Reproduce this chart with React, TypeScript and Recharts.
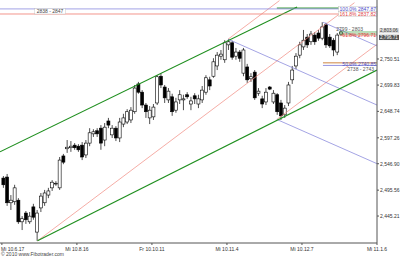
import React from "react"
import { ComposedChart, Bar, XAxis, YAxis, ReferenceLine } from "recharts"

const FONT = "'Liberation Sans', Arial, sans-serif"

// bottom axis: one tick every 20 bars
const xTicks = [0, 20, 40, 60, 80, 100]
const xLabels = ["Mi 10.6.17", "Mi 10.8.16", "Fr 10.10.11", "Mi 10.11.4", "Mi 10.12.7", "Mi 11.1.6"]
const yTicks = [2445.21, 2495.56, 2546.9, 2597.26, 2648.74, 2699.83, 2750.51]

// candles, oldest first
const opens = [
  2519, 2521, 2471, 2473, 2476, 2434, 2451, 2434, 2463, 2414,
  2461, 2471, 2486, 2500, 2508, 2500, 2562, 2576, 2578, 2583,
  2581, 2583, 2564, 2587, 2605, 2611, 2616, 2593, 2630, 2603,
  2616, 2597, 2624, 2628, 2632, 2648, 2702, 2686, 2661, 2636,
  2638, 2665, 2717, 2696, 2671, 2677, 2651, 2671, 2671, 2681,
  2663, 2679, 2663, 2671, 2686, 2710, 2717, 2737, 2756, 2749,
  2778, 2782, 2756, 2764, 2723, 2735, 2712, 2725, 2684, 2673,
  2667, 2696, 2667, 2681, 2665, 2642, 2665, 2710, 2737, 2758,
  2774, 2793, 2784, 2797, 2801, 2791, 2817, 2793, 2787, 2764,
  2799,
]
const highs = [
  2523, 2527, 2486, 2506, 2480, 2445, 2455, 2453, 2469, 2457,
  2490, 2496, 2500, 2515, 2513, 2560, 2566, 2593, 2591, 2587,
  2585, 2589, 2593, 2616, 2614, 2616, 2622, 2626, 2636, 2622,
  2620, 2636, 2644, 2653, 2657, 2700, 2706, 2690, 2665, 2659,
  2663, 2719, 2723, 2700, 2694, 2683, 2675, 2690, 2681, 2686,
  2677, 2684, 2681, 2698, 2719, 2716, 2752, 2764, 2768, 2787,
  2789, 2786, 2772, 2768, 2772, 2741, 2723, 2729, 2694, 2679,
  2694, 2698, 2690, 2684, 2671, 2661, 2706, 2737, 2762, 2784,
  2807, 2799, 2805, 2803, 2807, 2822, 2821, 2799, 2791, 2801,
  2807,
]
const lows = [
  2500, 2465, 2457, 2467, 2430, 2418, 2430, 2430, 2438, 2397,
  2453, 2465, 2480, 2494, 2504, 2496, 2546, 2568, 2570, 2574,
  2570, 2554, 2558, 2581, 2599, 2599, 2574, 2581, 2616, 2597,
  2591, 2589, 2618, 2624, 2626, 2644, 2683, 2655, 2636, 2624,
  2632, 2661, 2694, 2665, 2665, 2640, 2646, 2663, 2651, 2673,
  2651, 2663, 2655, 2665, 2681, 2690, 2714, 2729, 2749, 2743,
  2768, 2749, 2749, 2745, 2717, 2704, 2706, 2671, 2679, 2655,
  2661, 2690, 2663, 2642, 2632, 2636, 2659, 2702, 2731, 2752,
  2768, 2772, 2778, 2778, 2786, 2787, 2772, 2772, 2756, 2758,
  2795,
]
const closes = [
  2506, 2471, 2476, 2500, 2434, 2440, 2438, 2445, 2443, 2451,
  2484, 2490, 2494, 2511, 2509, 2554, 2550, 2579, 2581, 2578,
  2574, 2560, 2587, 2607, 2609, 2605, 2587, 2618, 2622, 2616,
  2597, 2628, 2636, 2648, 2651, 2694, 2686, 2661, 2648, 2651,
  2657, 2716, 2700, 2675, 2688, 2648, 2667, 2681, 2673, 2677,
  2669, 2673, 2673, 2690, 2714, 2698, 2745, 2758, 2760, 2782,
  2784, 2754, 2764, 2752, 2768, 2710, 2716, 2675, 2688, 2663,
  2686, 2692, 2684, 2648, 2640, 2655, 2700, 2729, 2756, 2778,
  2787, 2778, 2799, 2784, 2791, 2813, 2778, 2776, 2768, 2797,
  2803,
]

// trend lines: [bar, price] end points
const greenUpper = [[-0.5, 2570], [78.7, 2851.6]]
const greenLower = [[9.5, 2397], [100, 2729]]
const greenTop = [[73.3, 2849.5], [100, 2849.5]]
const forkMedian = [[9.5, 2397], [94, 2860]]
const forkUpper = [[60.3, 2789], [74, 2864]]
const forkLower = [[73.3, 2633], [100, 2779]]
const blueA = [[60.3, 2789], [100, 2661]]
const blueB = [[73.3, 2633], [100, 2547]]
const blueC = [[85.6, 2822], [100, 2776]]

// horizontal levels
const topZone = [2838, 2847.87]
const midZone = [2799, 2803]
const midFib = 2796.71
const lowZone = [2738, 2743]
const lastPrices = [2803.06, 2796.71]

const candles = opens.map((open, i) => ({
  pos: i + 0.5,
  open,
  high: highs[i],
  low: lows[i],
  close: closes[i],
  range: [lows[i], highs[i]],
}))

const fmt = (v: number) =>
  v.toLocaleString("en-US", { minimumFractionDigits: 2, maximumFractionDigits: 2 })

function Candle(props: any) {
  const { x, y, width, height, payload } = props
  const { open, close, high, low } = payload
  const k = high === low ? 0 : height / (high - low)
  const yo = y + (high - open) * k
  const yc = y + (high - close) * k
  const top = Math.min(yo, yc)
  const bh = Math.max(Math.abs(yo - yc), 0.8)
  const cx = x + width / 2
  const up = close >= open
  return (
    <g>
      <line x1={cx} x2={cx} y1={y} y2={y + height} stroke="#000" strokeWidth={0.7} />
      <rect x={x} y={top} width={width} height={bh} fill={up ? "#fff" : "#000"} stroke="#000" strokeWidth={0.6} />
    </g>
  )
}

function XTick(props: any) {
  const { x, y, index } = props
  const first = index === 0
  return (
    <text x={first ? 1 : x} y={y + 3.5} textAnchor={first ? "start" : "middle"} fontSize={5} fill="#333" fontFamily={FONT}>
      {xLabels[index]}
    </text>
  )
}

type Item = { text: string; color: string; dx: number; dy: number; from?: "left" | "right"; anchor?: string; bg?: boolean }

const tag = (items: Item[]) => (props: any) => {
  const vb = props.viewBox || {}
  return (
    <g>
      {items.map((it, i) => {
        const bx = (it.from === "left" ? vb.x : vb.x + vb.width) + it.dx
        const by = vb.y + it.dy
        const w = it.text.length * 2.6
        const left = it.anchor === "middle" ? bx - w / 2 : it.anchor === "start" ? bx : bx - w
        return (
          <g key={i}>
            {it.bg && <rect x={left - 1} y={by - 4.5} width={w + 2} height={5.5} fill="#fff" stroke="#bbb" strokeWidth={0.4} />}
            <text x={bx} y={by} textAnchor={it.anchor || "end"} fontSize={5} fill={it.color} fontFamily={FONT}>
              {it.text}
            </text>
          </g>
        )
      })}
    </g>
  )
}

const priceBox = (text: string, fill: string, color: string, dy: number) => (props: any) => {
  const vb = props.viewBox || {}
  const x = vb.x + vb.width + 2
  const cy = vb.y + dy
  return (
    <g>
      <rect x={x} y={cy - 2.6} width={20} height={5.2} fill={fill} />
      <text x={x + 1} y={cy + 1.7} fontSize={4.6} fill={color} fontFamily={FONT}>{text}</text>
    </g>
  )
}

const seg = (pts: number[][]) => [
  { x: pts[0][0], y: pts[0][1] },
  { x: pts[1][0], y: pts[1][1] },
]

export default function App() {
  const green = "#1f8f1f"
  const red = "#f08a80"
  const blue = "#7c7cd8"
  return (
    <div style={{ position: "absolute", left: 0, top: 0, width: 400, height: 257, background: "#fff", fontFamily: FONT }}>
      <ComposedChart width={400} height={257} data={candles} margin={{ top: 0, right: 0, bottom: 0, left: 0 }}>
        <XAxis
          dataKey="pos"
          type="number"
          domain={[-0.5, 100]}
          ticks={xTicks}
          interval={0}
          tick={<XTick />}
          tickSize={2}
          height={14}
          stroke="#555"
          allowDataOverflow
        />
        <YAxis
          orientation="right"
          domain={[2392.8, 2865.2]}
          ticks={yTicks}
          width={23}
          tick={{ fontSize: 5, fill: "#333", fontFamily: FONT }}
          tickFormatter={fmt}
          tickSize={2}
          tickMargin={1}
          stroke="#555"
          allowDataOverflow
        />

        <ReferenceLine segment={seg(forkMedian)} stroke={red} strokeWidth={0.7} ifOverflow="hidden" />
        <ReferenceLine segment={seg(forkUpper)} stroke={red} strokeWidth={0.7} ifOverflow="hidden" />
        <ReferenceLine segment={seg(forkLower)} stroke={red} strokeWidth={0.7} ifOverflow="hidden" />
        <ReferenceLine segment={seg(blueA)} stroke={blue} strokeWidth={0.7} ifOverflow="hidden" />
        <ReferenceLine segment={seg(blueB)} stroke={blue} strokeWidth={0.7} ifOverflow="hidden" />
        <ReferenceLine segment={seg(blueC)} stroke={blue} strokeWidth={0.7} ifOverflow="hidden" />
        <ReferenceLine segment={seg(greenUpper)} stroke={green} strokeWidth={1.1} ifOverflow="hidden" />
        <ReferenceLine segment={seg(greenLower)} stroke={green} strokeWidth={1.1} ifOverflow="hidden" />
        <ReferenceLine segment={seg(greenTop)} stroke={green} strokeWidth={1} ifOverflow="hidden" />

        <ReferenceLine
          y={topZone[1]}
          stroke="#8c8ce0"
          strokeWidth={0.8}
          label={tag([{ text: "100.0% 2847.87", color: "#4a4ac8", dx: -1, dy: 1.8, bg: true }])}
        />
        <ReferenceLine
          y={topZone[0]}
          stroke="#f07a70"
          strokeWidth={0.8}
          label={tag([
            { text: "2838 - 2847", color: "#444", dx: 50, dy: -1, from: "left", anchor: "middle", bg: true },
            { text: "161.8% 2837.82", color: "#e04040", dx: -1, dy: 1.8, bg: true },
          ])}
        />

        <ReferenceLine
          segment={[{ x: 90, y: midZone[1] }, { x: 100, y: midZone[1] }]}
          stroke="#3aa03a"
          strokeWidth={0.7}
          label={tag([{ text: "2799 - 2803", color: "#555", dx: -14, dy: -1.2 }])}
        />
        <ReferenceLine segment={[{ x: 90, y: midZone[0] }, { x: 100, y: midZone[0] }]} stroke="#3aa03a" strokeWidth={0.7} />
        <ReferenceLine
          segment={[{ x: 90, y: midFib }, { x: 100, y: midFib }]}
          stroke="#f07a70"
          strokeWidth={0.7}
          label={tag([{ text: "61.8% 2796.71", color: "#e04040", dx: -1, dy: 1.8 }])}
        />

        <ReferenceLine segment={[{ x: 85.6, y: lowZone[1] }, { x: 100, y: lowZone[1] }]} stroke="#c8782a" strokeWidth={0.9} />
        <ReferenceLine
          segment={[{ x: 85.6, y: lowZone[0] }, { x: 100, y: lowZone[0] }]}
          stroke="#8a8ae0"
          strokeWidth={0.9}
          label={tag([
            { text: "50.0% 2740.85", color: "#5050c0", dx: -1, dy: 0.5 },
            { text: "2738 - 2743", color: "#555", dx: -3, dy: 6 },
          ])}
        />

        <ReferenceLine y={lastPrices[0]} stroke="none" label={priceBox(fmt(lastPrices[0]), "#ddd", "#333", -1.2)} />
        <ReferenceLine y={lastPrices[1]} stroke="none" label={priceBox(fmt(lastPrices[1]), "#555", "#fff", 2.2)} />

        <Bar dataKey="range" barSize={3} shape={(p: any) => <Candle {...p} />} isAnimationActive={false} />
      </ComposedChart>
      <div style={{ position: "absolute", left: 1, top: 252, fontSize: 5, color: "#444", lineHeight: "5px" }}>
        © 2010 www.Fibotrader.com
      </div>
    </div>
  )
}
